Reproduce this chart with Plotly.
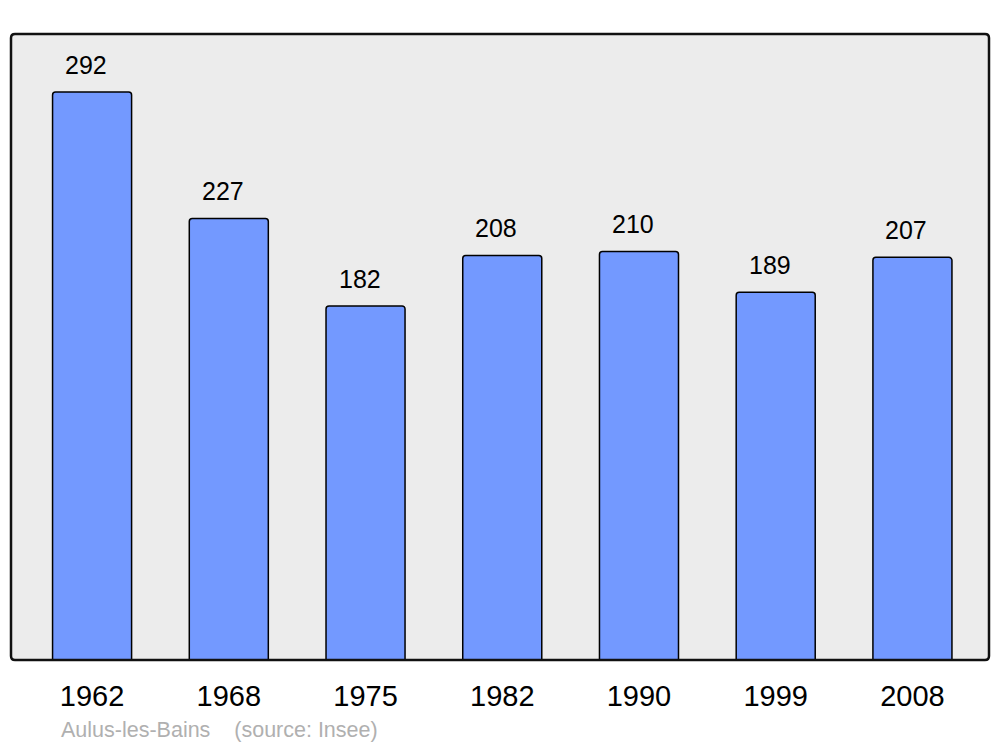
import plotly.graph_objects as go

years = ["1962", "1968", "1975", "1982", "1990", "1999", "2008"]
population = [292, 227, 182, 208, 210, 189, 207]
footer_text = "Aulus-les-Bains &nbsp;&nbsp; (source: Insee)"

W, H = 1000, 747
ML, MR, MT, MB = 11, 11, 34, 87

fig = go.Figure()
fig.add_trace(go.Bar(
    x=years, y=population,
    marker=dict(color="#7399ff", line=dict(color="#000000", width=1.5), cornerradius=3),
    hoverinfo="skip",
))

for i, v in enumerate(population):
    fig.add_annotation(x=i, y=v, text=str(v), showarrow=False, yanchor="middle",
                       yshift=27, xshift=-6,
                       font=dict(family="Liberation Sans, Arial", size=25, color="#000000"))

fig.add_annotation(xref="paper", yref="paper", x=(59 - ML) / (W - ML - MR), y=(H - MB - 730) / (H - MT - MB),
                   xanchor="left", yanchor="middle", text=footer_text, showarrow=False,
                   font=dict(family="Liberation Sans, Arial", size=21.5, color="#b0b0b0"))

# rounded border of plot area (paper coordinates)
pw, ph = W - ML - MR, H - MT - MB
rx, ry = 4 / pw, 4 / ph
path = (f"M {rx},0 L {1-rx},0 Q 1,0 1,{ry} L 1,{1-ry} Q 1,1 {1-rx},1 "
        f"L {rx},1 Q 0,1 0,{1-ry} L 0,{ry} Q 0,0 {rx},0 Z")
fig.add_shape(type="path", xref="paper", yref="paper", path=path,
              line=dict(color="#111111", width=2.5), layer="above")

fig.update_layout(
    width=W, height=H,
    margin=dict(l=ML, r=MR, t=MT, b=MB),
    paper_bgcolor="#ffffff", plot_bgcolor="#ececec",
    bargap=0.422, showlegend=False,
    font=dict(family="Liberation Sans, Arial", color="#000000"),
    xaxis=dict(type="category", range=[-0.593, 6.56], showgrid=False, zeroline=False, showline=False,
               ticks="outside", ticklen=10, tickcolor="rgba(0,0,0,0)",
               tickfont=dict(size=29, color="#000000"), fixedrange=True),
    yaxis=dict(range=[0, 321.8], showgrid=False, zeroline=False, showline=False,
               showticklabels=False, fixedrange=True),
)

fig.write_html("out.html", config={"displayModeBar": False},
               post_script="document.body.style.margin='0';document.body.style.overflow='hidden';")
